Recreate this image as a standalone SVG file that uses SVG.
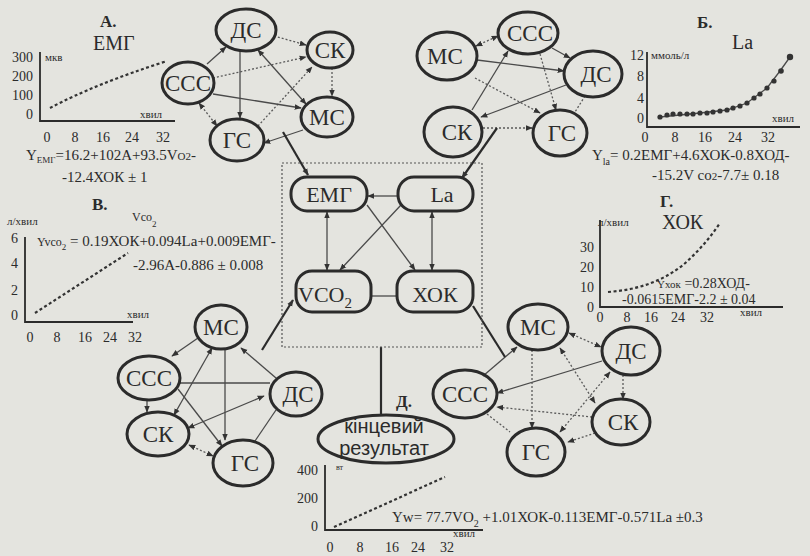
<svg xmlns="http://www.w3.org/2000/svg" width="810" height="556" viewBox="0 0 810 556">
<defs>
<style>
.bg{fill:#e4e4df}
.tx{font-family:"Liberation Serif","DejaVu Serif",serif;fill:#2b2b2b}
.nt{font-size:23px;text-anchor:middle}
.bt{font-size:22px;text-anchor:middle}
.sm{font-size:11px}
.tk{font-size:14px;text-anchor:middle}
.yl{font-size:14px;text-anchor:end}
.eq{font-size:15px}
.ttl{font-size:17px;font-weight:bold}
.big{font-size:20px}
.ax{stroke:#2b2b2b;stroke-width:1.8;fill:none}
.dash{stroke:#333;stroke-width:2.2;stroke-dasharray:3 2.5;fill:none}
.el{fill:none;stroke:#2b2b2b;stroke-width:3}
.s{stroke:#4a4a4a;stroke-width:1.3;fill:none}
.d{stroke:#5a5a5a;stroke-width:1.3;stroke-dasharray:2 2;fill:none}
.k{stroke:#2b2b2b;stroke-width:2.2;fill:none}
.box{fill:none;stroke:#555;stroke-width:1.2;stroke-dasharray:2 2}
.dot{fill:#333}
</style>
<marker id="a" viewBox="0 0 10 10" refX="9" refY="5" markerUnits="userSpaceOnUse" markerWidth="7" markerHeight="7" orient="auto-start-reverse">
<path d="M0,1 L10,5 L0,9 z" fill="#333"/>
</marker>
</defs>
<rect class="bg" x="0" y="0" width="810" height="556"/>

<!-- Chart A -->
<g id="chartA">
<text class="tx ttl" x="100" y="27">А.</text>
<text class="tx big" x="93" y="50">ЕМГ</text>
<path class="ax" d="M40,52 V121 H175"/>
<text class="tx yl" x="33" y="62">300</text>
<text class="tx yl" x="33" y="81">200</text>
<text class="tx yl" x="33" y="100">100</text>
<text class="tx yl" x="33" y="119">0</text>
<text class="tx sm" x="45" y="61">мкв</text>
<text class="tx sm" x="140" y="118">хвил</text>
<text class="tx tk" x="47" y="142">0</text>
<text class="tx tk" x="75" y="142">8</text>
<text class="tx tk" x="103" y="142">16</text>
<text class="tx tk" x="132" y="142">24</text>
<text class="tx tk" x="163" y="142">32</text>
<path class="dash" d="M50,108 C80,92 120,76 167,61"/>
<text class="tx eq" x="26" y="160">Y<tspan font-size="9" dy="3">ЕМГ</tspan><tspan dy="-3">=16.2+102А+93.5V</tspan><tspan font-size="11">O2</tspan>-</text>
<text class="tx eq" x="62" y="182">-12.4ХОК ± 1</text>
</g>

<!-- Chart B (Б) -->
<g id="chartB">
<text class="tx ttl" x="697" y="28">Б.</text>
<text class="tx big" x="732" y="49">La</text>
<path class="ax" d="M647,52 V127 H800"/>
<text class="tx yl" x="644" y="60">12</text>
<text class="tx yl" x="644" y="81">8</text>
<text class="tx yl" x="644" y="103">4</text>
<text class="tx yl" x="644" y="123">0</text>
<text class="tx sm" x="651" y="59">ммоль/л</text>
<text class="tx sm" x="772" y="122">хвил</text>
<text class="tx tk" x="645" y="142">0</text>
<text class="tx tk" x="675" y="142">8</text>
<text class="tx tk" x="705" y="142">16</text>
<text class="tx tk" x="735" y="142">24</text>
<text class="tx tk" x="768" y="142">32</text>
<path class="s" d="M660,117 L700,113 L727,110 L747,103 L767,88 L780,71 L790,57"/>
<g class="dot">
<circle cx="660" cy="117" r="2.6"/><circle cx="667" cy="115" r="2.6"/><circle cx="673" cy="114" r="2.6"/><circle cx="680" cy="114" r="2.6"/><circle cx="687" cy="114" r="2.6"/><circle cx="693" cy="114" r="2.6"/><circle cx="700" cy="113" r="2.6"/><circle cx="707" cy="113" r="2.6"/><circle cx="713" cy="112" r="2.6"/><circle cx="720" cy="111" r="2.6"/><circle cx="727" cy="110" r="2.6"/><circle cx="733" cy="108" r="2.6"/><circle cx="740" cy="106" r="2.6"/><circle cx="747" cy="103" r="2.6"/><circle cx="754" cy="98" r="2.6"/><circle cx="760" cy="94" r="2.6"/><circle cx="767" cy="88" r="2.6"/><circle cx="774" cy="81" r="2.6"/><circle cx="781" cy="71" r="2.8"/><circle cx="790" cy="57" r="3.2"/>
</g>
<text class="tx eq" x="592" y="160" font-size="16">Y<tspan font-size="10" dy="5">la</tspan><tspan dy="-5">= 0.2ЕМГ+4.6ХОК-0.8ХОД-</tspan></text>
<text class="tx eq" x="652" y="180" font-size="16">-15.2V co<tspan font-size="11">2</tspan>-7.7± 0.18</text>
</g>

<!-- Chart V (В) -->
<g id="chartV">
<text class="tx ttl" x="92" y="210">В.</text>
<text class="tx sm" x="7" y="225">л/хвил</text>
<text class="tx" font-size="12" x="132" y="221">Vco<tspan font-size="9" dy="6">2</tspan></text>
<path class="ax" d="M25,237 V322 H133"/>
<text class="tx yl" x="18" y="243">6</text>
<text class="tx yl" x="18" y="268">4</text>
<text class="tx yl" x="18" y="295">2</text>
<text class="tx yl" x="18" y="320">0</text>
<text class="tx sm" x="127" y="318">хвил</text>
<text class="tx tk" x="30" y="342">0</text>
<text class="tx tk" x="57" y="342">8</text>
<text class="tx tk" x="85" y="342">16</text>
<text class="tx tk" x="110" y="342">24</text>
<text class="tx tk" x="135" y="342">32</text>
<path class="dash" d="M35,313 L128,253"/>
<text class="tx eq" x="37" y="246"><tspan font-size="12">Yvco</tspan><tspan font-size="9" dy="4">2</tspan><tspan dy="-4"> = 0.19ХОК+0.094La+0.009ЕМГ-</tspan></text>
<text class="tx eq" x="133" y="270">-2.96А-0.886 ± 0.008</text>
</g>

<!-- Chart G (Г) -->
<g id="chartG">
<text class="tx ttl" x="660" y="207">Г.</text>
<text class="tx big" x="662" y="229">ХОК</text>
<text class="tx sm" x="598" y="226">л/хвил</text>
<path class="ax" d="M600,220 V307 H783"/>
<text class="tx yl" x="594" y="252">30</text>
<text class="tx yl" x="594" y="272">20</text>
<text class="tx yl" x="594" y="292">10</text>
<text class="tx yl" x="594" y="312">0</text>
<text class="tx tk" x="600" y="322">0</text>
<text class="tx tk" x="627" y="322">8</text>
<text class="tx tk" x="651" y="322">16</text>
<text class="tx tk" x="678" y="322">24</text>
<text class="tx tk" x="707" y="322">32</text>
<text class="tx sm" x="740" y="316">хвил</text>
<path class="dash" d="M608,292 C635,290 660,283 683,265 C697,253 710,238 720,223"/>
<text class="tx" font-size="14" x="657" y="288"><tspan font-size="11">Yхок</tspan> =0.28ХОД-</text>
<text class="tx" font-size="14" x="622" y="304">-0.0615ЕМГ-2.2 ± 0.04</text>
</g>

<!-- Chart D (Д) -->
<g id="chartD">
<text class="tx ttl" x="396" y="407">Д.</text>
<text class="tx" font-size="8" x="336" y="470">вт</text>
<path class="ax" d="M325,465 V530 H483"/>
<text class="tx yl" x="318" y="475">400</text>
<text class="tx yl" x="318" y="503">200</text>
<text class="tx yl" x="318" y="531">0</text>
<text class="tx sm" x="453" y="537">хвил</text>
<text class="tx tk" x="330" y="552">0</text>
<text class="tx tk" x="360" y="552">8</text>
<text class="tx tk" x="392" y="552">16</text>
<text class="tx tk" x="418" y="552">24</text>
<text class="tx tk" x="447" y="552">32</text>
<path class="dash" d="M334,527 L445,477"/>
<text class="tx eq" x="392" y="522">Yw= 77.7VO<tspan font-size="10" dy="5">2</tspan><tspan dy="-5"> +1.01ХОК-0.113ЕМГ-0.571La ±0.3</tspan></text>
</g>

<!-- connectors -->
<g id="connectors">
<!-- top-left cluster -->
<line class="s" x1="207" y1="64" x2="226" y2="47" marker-end="url(#a)"/>
<line class="d" x1="274" y1="36" x2="306" y2="45" marker-end="url(#a)"/>
<line class="d" x1="213" y1="78" x2="306" y2="57" marker-end="url(#a)"/>
<line class="d" x1="258" y1="126" x2="312" y2="67" marker-end="url(#a)"/>
<line class="s" x1="240" y1="51" x2="240" y2="118" marker-end="url(#a)"/>
<line class="s" x1="258" y1="50" x2="306" y2="104" marker-start="url(#a)" marker-end="url(#a)"/>
<line class="d" x1="332" y1="68" x2="332" y2="96" marker-end="url(#a)"/>
<line class="s" x1="213" y1="94" x2="301" y2="108" marker-end="url(#a)"/>
<line class="s" x1="303" y1="130" x2="264" y2="143" marker-end="url(#a)"/>
<line class="d" x1="199" y1="103" x2="217" y2="126" marker-start="url(#a)" marker-end="url(#a)"/>
<!-- top-right cluster -->
<line class="d" x1="476" y1="46" x2="498" y2="36" marker-start="url(#a)" marker-end="url(#a)"/>
<line class="s" x1="552" y1="48" x2="570" y2="58" marker-end="url(#a)"/>
<line class="s" x1="477" y1="60" x2="564" y2="71" marker-end="url(#a)"/>
<line class="s" x1="472" y1="110" x2="508" y2="51" marker-end="url(#a)"/>
<line class="s" x1="566" y1="85" x2="481" y2="117" marker-end="url(#a)"/>
<line class="d" x1="483" y1="128" x2="532" y2="128" marker-end="url(#a)"/>
<line class="d" x1="475" y1="78" x2="540" y2="113" marker-end="url(#a)"/>
<line class="d" x1="540" y1="54" x2="556" y2="110" marker-end="url(#a)"/>
<line class="d" x1="585" y1="96" x2="575" y2="112"/>
<!-- bottom-left cluster -->
<line class="s" x1="198" y1="338" x2="172" y2="356" marker-end="url(#a)"/>
<line class="s" x1="147" y1="400" x2="147" y2="412" marker-end="url(#a)"/>
<line class="s" x1="212" y1="348" x2="174" y2="415" marker-start="url(#a)" marker-end="url(#a)"/>
<line class="s" x1="225" y1="349" x2="225" y2="440" marker-end="url(#a)"/>
<line class="s" x1="180" y1="383" x2="270" y2="383"/>
<line class="s" x1="276" y1="378" x2="241" y2="348" marker-end="url(#a)"/>
<line class="s" x1="188" y1="428" x2="264" y2="396" marker-start="url(#a)" marker-end="url(#a)"/>
<line class="s" x1="178" y1="389" x2="222" y2="446" marker-end="url(#a)"/>
<line class="d" x1="189" y1="445" x2="213" y2="456" marker-start="url(#a)" marker-end="url(#a)"/>
<line class="s" x1="276" y1="410" x2="255" y2="441"/>
<!-- bottom-right cluster -->
<line class="d" x1="569" y1="333" x2="601" y2="347" marker-start="url(#a)" marker-end="url(#a)"/>
<line class="s" x1="483" y1="376" x2="517" y2="347" marker-end="url(#a)"/>
<line class="s" x1="602" y1="361" x2="497" y2="393" marker-end="url(#a)"/>
<line class="d" x1="623" y1="375" x2="623" y2="399" marker-end="url(#a)"/>
<line class="d" x1="532" y1="350" x2="532" y2="428" marker-end="url(#a)"/>
<line class="d" x1="560" y1="348" x2="595" y2="403" marker-start="url(#a)" marker-end="url(#a)"/>
<line class="d" x1="592" y1="417" x2="497" y2="407" marker-end="url(#a)"/>
<line class="d" x1="487" y1="414" x2="510" y2="432"/>
<line class="d" x1="595" y1="433" x2="568" y2="442" marker-end="url(#a)"/>
<line class="d" x1="610" y1="372" x2="560" y2="432" marker-start="url(#a)" marker-end="url(#a)"/>
<!-- central box -->
<line class="s" x1="399" y1="196" x2="368" y2="196" marker-end="url(#a)"/>
<line class="s" x1="327" y1="212" x2="327" y2="270" marker-start="url(#a)" marker-end="url(#a)"/>
<line class="s" x1="432" y1="212" x2="432" y2="270" marker-start="url(#a)" marker-end="url(#a)"/>
<line class="s" x1="367" y1="205" x2="415" y2="270" marker-end="url(#a)"/>
<line class="s" x1="401" y1="205" x2="340" y2="270" marker-end="url(#a)"/>
<line class="s" x1="372" y1="296" x2="396" y2="296"/>
<!-- links clusters to box -->
<line class="k" x1="283" y1="132" x2="308" y2="175" marker-end="url(#a)"/>
<line class="k" x1="497" y1="128" x2="462" y2="178" marker-end="url(#a)"/>
<line class="k" x1="262" y1="350" x2="293" y2="300" marker-end="url(#a)"/>
<line class="k" x1="505" y1="357" x2="473" y2="306"/>
<line class="k" x1="381" y1="347" x2="381" y2="415"/>
</g>

<rect class="box" x="282" y="163" width="200" height="184"/>

<!-- top-left cluster -->
<g id="tl-DS"><ellipse class="el" cx="246" cy="30" rx="30" ry="21"/><text class="tx nt" x="246" y="38">ДС</text></g>
<g id="tl-SK"><ellipse class="el" cx="330" cy="50" rx="23" ry="18"/><text class="tx nt" x="330" y="58">СК</text></g>
<g id="tl-SSS"><ellipse class="el" cx="188" cy="83" rx="26" ry="21"/><text class="tx nt" x="188" y="91">ССС</text></g>
<g id="tl-MS"><ellipse class="el" cx="327" cy="117" rx="26" ry="20"/><text class="tx nt" x="327" y="125">МС</text></g>
<g id="tl-GS"><ellipse class="el" cx="237" cy="140" rx="27" ry="21"/><text class="tx nt" x="237" y="148">ГС</text></g>

<!-- top-right cluster -->
<g id="tr-MS"><ellipse class="el" cx="447" cy="56" rx="30" ry="24"/><text class="tx nt" x="445" y="64">МС</text></g>
<g id="tr-SSS"><ellipse class="el" cx="528" cy="33" rx="30" ry="21"/><text class="tx nt" x="530" y="41">ССС</text></g>
<g id="tr-DS"><ellipse class="el" cx="593" cy="74" rx="29" ry="23"/><text class="tx nt" x="596" y="82">ДС</text></g>
<g id="tr-SK"><ellipse class="el" cx="453" cy="132" rx="29" ry="25"/><text class="tx nt" x="457" y="140">СК</text></g>
<g id="tr-GS"><ellipse class="el" cx="560" cy="133" rx="27" ry="23"/><text class="tx nt" x="562" y="141">ГС</text></g>

<!-- central nodes -->
<g id="n-EMG"><rect class="el" x="291" y="177" width="76" height="34" rx="16"/><text class="tx bt" x="329" y="202">ЕМГ</text></g>
<g id="n-La"><rect class="el" x="398" y="177" width="75" height="34" rx="16"/><text class="tx bt" x="442" y="202">La</text></g>
<g id="n-VCO2"><rect class="el" x="296" y="271" width="75" height="41" rx="16"/><text class="tx bt" x="325" y="302">VCO<tspan font-size="15" dy="6">2</tspan></text></g>
<g id="n-HOK"><rect class="el" x="397" y="271" width="76" height="41" rx="16"/><text class="tx bt" x="435" y="302">ХОК</text></g>

<!-- bottom-left cluster -->
<g id="bl-MS"><ellipse class="el" cx="221" cy="327" rx="26" ry="22"/><text class="tx nt" x="221" y="335">МС</text></g>
<g id="bl-SSS"><ellipse class="el" cx="149" cy="378" rx="31" ry="22"/><text class="tx nt" x="149" y="386">ССС</text></g>
<g id="bl-DS"><ellipse class="el" cx="296" cy="394" rx="26" ry="22"/><text class="tx nt" x="298" y="402">ДС</text></g>
<g id="bl-SK"><ellipse class="el" cx="158" cy="434" rx="31" ry="22"/><text class="tx nt" x="158" y="442">СК</text></g>
<g id="bl-GS"><ellipse class="el" cx="243" cy="463" rx="30" ry="23"/><text class="tx nt" x="245" y="471">ГС</text></g>

<!-- bottom-right cluster -->
<g id="br-MS"><ellipse class="el" cx="538" cy="327" rx="30" ry="23"/><text class="tx nt" x="538" y="335">МС</text></g>
<g id="br-DS"><ellipse class="el" cx="631" cy="351" rx="29" ry="24"/><text class="tx nt" x="631" y="359">ДС</text></g>
<g id="br-SSS"><ellipse class="el" cx="465" cy="394" rx="32" ry="24"/><text class="tx nt" x="465" y="402">ССС</text></g>
<g id="br-SK"><ellipse class="el" cx="621" cy="422" rx="29" ry="23"/><text class="tx nt" x="623" y="430">СК</text></g>
<g id="br-GS"><ellipse class="el" cx="536" cy="452" rx="29" ry="24"/><text class="tx nt" x="536" y="460">ГС</text></g>

<!-- final result -->
<g id="result"><ellipse class="el" cx="386" cy="439" rx="68" ry="24"/>
<text font-family="Liberation Sans, Arial, sans-serif" font-size="20" fill="#2b2b2b" text-anchor="middle" x="384" y="433">кінцевий</text>
<text font-family="Liberation Sans, Arial, sans-serif" font-size="20" fill="#2b2b2b" text-anchor="middle" x="384" y="455">результат</text>
</g>
</svg>
